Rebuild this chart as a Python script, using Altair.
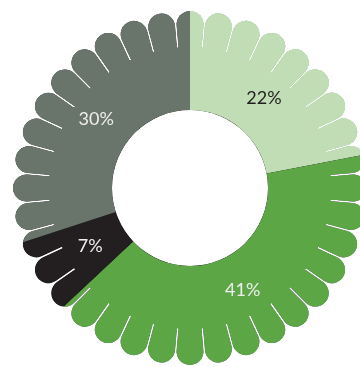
import math
import altair as alt
import pandas as pd

# ---- data ----
categories = ["Light green", "Green", "Black", "Grey"]
values = [22, 41, 7, 30]
labels = ["22%", "41%", "7%", "30%"]
colors = ["#c1ddb6", "#5ca646", "#231f20", "#69756b"]
petal_count = 36

CX, CY = 190, 188
HOLE = 78
BASE_R = 141
OUTER = 177

pie_df = pd.DataFrame({"cat": categories, "value": values, "label": labels,
                       "order": list(range(len(categories)))})
petal_df = pd.DataFrame({"k": list(range(petal_count))})
ring_df = pd.DataFrame({"v": [1]})

petal_scale = alt.Scale(domain=[0, petal_count], range=[0, 2 * math.pi])

# black silhouette of the flower: ring + petals
ring = alt.Chart(ring_df).mark_arc(
    innerRadius=HOLE, outerRadius=BASE_R, color="black", x=CX, y=CY
).encode(theta=alt.Theta("v:Q"))

petals = alt.Chart(petal_df).transform_calculate(
    t0="datum.k - 0.5", t1="datum.k + 0.5"
).mark_arc(
    innerRadius=100, outerRadius=OUTER, cornerRadius=40, padAngle=0.008,
    color="black", x=CX, y=CY
).encode(
    theta=alt.Theta("t0:Q", scale=petal_scale),
    theta2="t1:Q",
)

# coloured pie, shown only where the silhouette is (lighten blend on white)
pie = alt.Chart(pie_df).mark_arc(
    innerRadius=HOLE, outerRadius=190, blend="lighten", x=CX, y=CY
).encode(
    theta=alt.Theta("value:Q", stack=True),
    color=alt.Color("cat:N", scale=alt.Scale(domain=categories, range=colors), legend=None),
    order=alt.Order("order:Q"),
)

text = alt.Chart(pie_df).mark_text(
    radius=116, fontSize=18, font="Lato", x=CX, y=CY
).encode(
    theta=alt.Theta("value:Q", stack=True),
    order=alt.Order("order:Q"),
    text="label:N",
    color=alt.condition(alt.datum.label == "22%", alt.value("#231f20"), alt.value("#eeeeee")),
)

chart = alt.layer(ring, petals, pie, text).resolve_scale(theta="independent").properties(
    width=360, height=367, padding=0, autosize="none", background="white"
).configure_view(stroke=None)

chart.save("out.html", embed_options={"renderer": "svg", "actions": False})
